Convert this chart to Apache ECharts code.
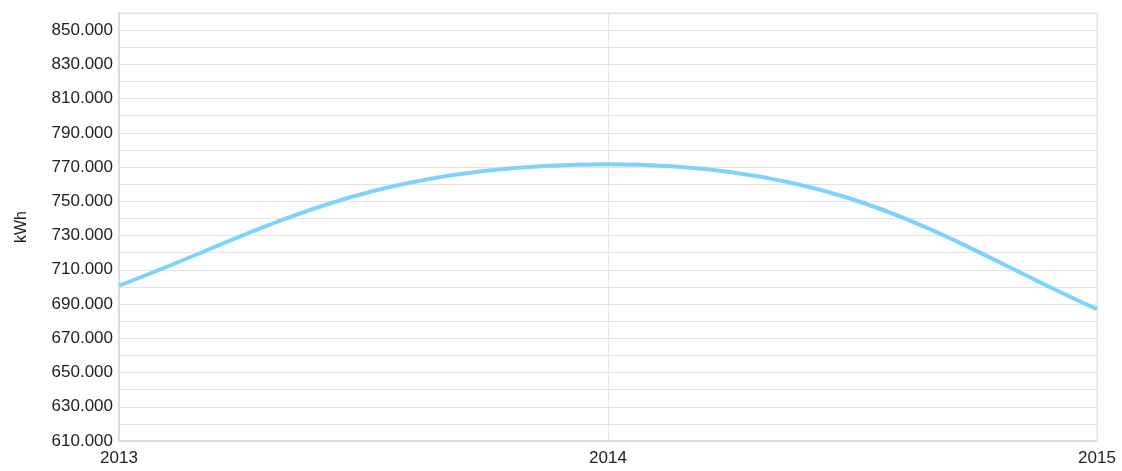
<!DOCTYPE html>
<html><head><meta charset="utf-8">
<script src="https://cdn.jsdelivr.net/npm/echarts@6/dist/echarts.min.js"></script>
<style>html,body{margin:0;padding:0;background:#fff}#c{width:1122px;height:471px}</style>
</head><body><div id="c"></div>
<script>
const years = ['2013', '2014', '2015'];
const consumption = [700800, 771700, 687000];
const yMin = 610000, yMax = 860000, yStep = 10000, yLabelStep = 20000;

const chart = echarts.init(document.getElementById('c'), null, {renderer: 'canvas'});
const fmt = v => String(v).replace(/\B(?=(\d{3})+(?!\d))/g, '.');
const font = 'Liberation Sans, Arial, sans-serif';

// smooth spline through the data points, positioned via the chart's own axes (api.coord)
function renderSpline(params, api) {
  if (params.dataIndex !== 0) return;
  const pts = consumption.map((v, i) => api.coord([i, v]));
  const n = pts.length;
  const sec = [];
  for (let i = 0; i < n - 1; i++) sec.push((pts[i + 1][1] - pts[i][1]) / (pts[i + 1][0] - pts[i][0]));
  const m = [], k = [];
  for (let i = 0; i < n; i++) {
    if (i === 0) { m.push(1.5 * sec[0]); k.push(0.3); }
    else if (i === n - 1) { m.push(1.5 * sec[n - 2]); k.push(0.3); }
    else {
      m.push(sec[i - 1] * sec[i] <= 0 ? 0 : (sec[i - 1] + sec[i]) / 2);
      k.push(0.5);
    }
  }
  let d = 'M' + pts[0][0] + ' ' + pts[0][1];
  for (let i = 0; i < n - 1; i++) {
    const h = pts[i + 1][0] - pts[i][0];
    const c1x = pts[i][0] + k[i] * h, c1y = pts[i][1] + k[i] * h * m[i];
    const c2x = pts[i + 1][0] - k[i + 1] * h, c2y = pts[i + 1][1] - k[i + 1] * h * m[i + 1];
    d += ' C' + c1x + ' ' + c1y + ' ' + c2x + ' ' + c2y + ' ' + pts[i + 1][0] + ' ' + pts[i + 1][1];
  }
  return {
    type: 'path',
    shape: {pathData: d},
    style: {stroke: '#7dd3fd', lineWidth: 4, fill: null, lineJoin: 'round'}
  };
}

chart.setOption({
  animation: false,
  grid: {left: 119, right: 25, top: 13, bottom: 30, show: true, borderColor: '#e3e3e3', borderWidth: 1},
  xAxis: {
    type: 'category', data: years, boundaryGap: false,
    axisLine: {lineStyle: {color: '#dcdcdc', width: 2}},
    axisTick: {show: false},
    axisLabel: {color: '#222', fontFamily: font, fontSize: 17, margin: 9},
    splitLine: {show: true, lineStyle: {color: '#e3e3e3', width: 1}}
  },
  yAxis: {
    type: 'value', min: yMin, max: yMax, interval: yStep,
    name: 'kWh', nameLocation: 'middle', nameGap: 89, nameRotate: 90,
    nameTextStyle: {color: '#222', fontFamily: font, fontSize: 16},
    axisLine: {show: true, lineStyle: {color: '#dcdcdc', width: 2}},
    axisTick: {show: false},
    axisLabel: {color: '#222', fontFamily: font, fontSize: 17, margin: 6,
      formatter: v => ((v - yMin) % yLabelStep === 0 ? fmt(v) : '')},
    splitLine: {show: true, lineStyle: {color: '#e3e3e3', width: 1}}
  },
  series: [{
    type: 'custom', coordinateSystem: 'cartesian2d',
    data: consumption.map((v, i) => [i, v]),
    encode: {x: 0, y: 1},
    renderItem: renderSpline
  }]
});
</script></body></html>
